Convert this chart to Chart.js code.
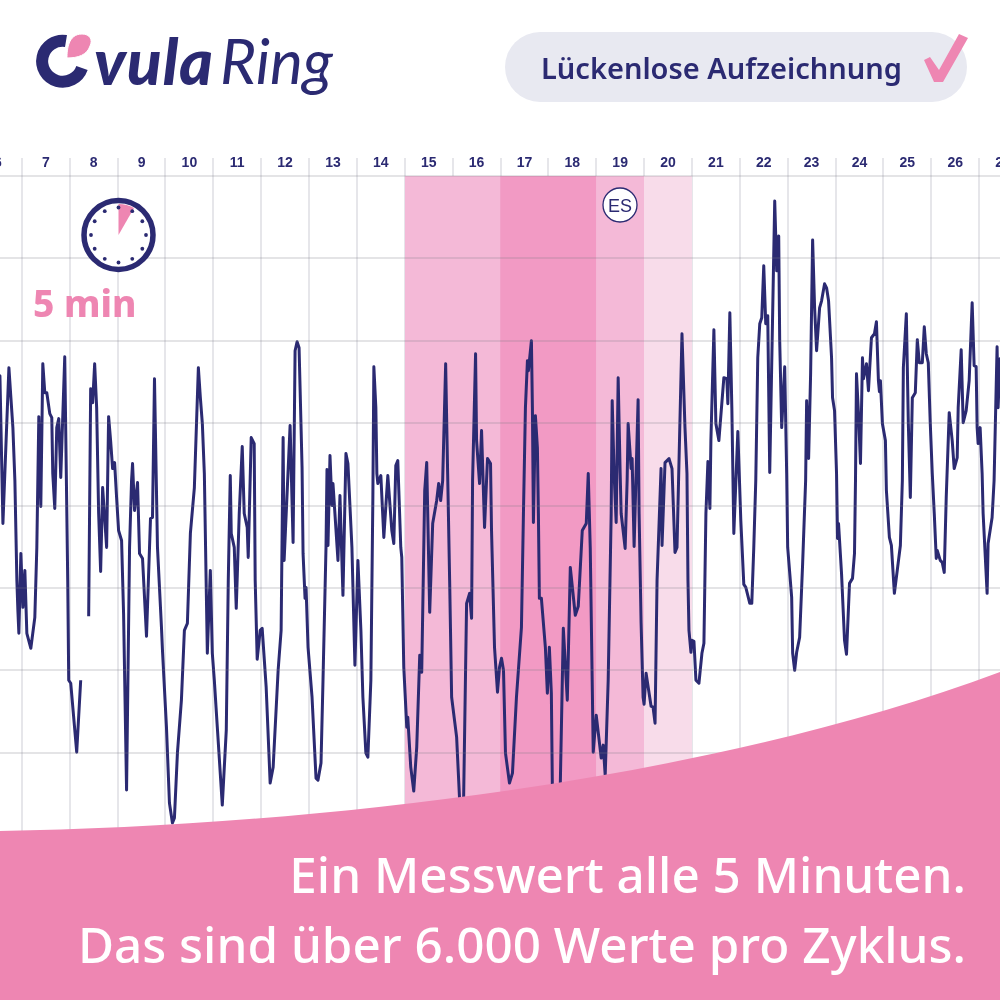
<!DOCTYPE html>
<html lang="de">
<head>
<meta charset="utf-8">
<title>OvulaRing</title>
<script src="https://cdn.jsdelivr.net/npm/chart.js@4"></script>
<style>
    html, body { margin: 0; padding: 0; width: 1000px; height: 1000px; overflow: hidden; background: #fff; }
    #curve { position: absolute; left: -26px; top: 0; }
    .overlay { position: absolute; left: 0; top: 0; }
    .text { position: absolute; white-space: nowrap; line-height: 1; }
    #logoBold { left: 94px; top: 22px; font: italic 900 64px Lato, sans-serif; letter-spacing: 1px; color: #2b2a72; }
    #logoLight { left: 220px; top: 23px; font: italic 400 62px Lato, sans-serif; color: #2b2a72; }
    #pill { position: absolute; left: 505px; top: 32px; width: 462px; height: 70px; border-radius: 35px; background: #e8e9f1; }
    #pillText { left: 541px; top: 48px; font: 600 29px "Noto Sans", sans-serif; color: #2b2a72; }
    #minutes { left: 33px; top: 277px; font: 800 37px "Noto Sans", sans-serif; color: #ee86b2; }
    #badge { left: 602px; top: 196px; width: 36px; text-align: center; font: 400 18px "Liberation Sans", sans-serif; color: #2b2a72; }
    .claim { right: 34px; font: 500 49.400px "Noto Sans", sans-serif; color: #fff; }
    #claim1 { top: 840px; }
    #claim2 { top: 910px; }
</style>
</head>
<body>
<canvas id="curve" width="1053" height="1000"></canvas>

<!-- Wave, clock and badge sit on top of the chart -->
<svg class="overlay" width="1000" height="1000">
    <path d="M0 831 C300 826 700 784 1000 672 L1000 1000 L0 1000 Z" fill="#ee86b2"/>
    <circle cx="620" cy="205" r="17" fill="#fff" stroke="#2b2a72" stroke-width="1.3"/>
    <circle cx="118.500" cy="235" r="34.500" fill="#fff" stroke="#2b2a72" stroke-width="5.500"/>
    <path d="M118.500 235 L118.500 204 A31 31 0 0 1 134 208 Z" fill="#ee86b2"/>
    <g id="clockDots" fill="#2b2a72"></g>
    <path d="M66 41 A20.500 20.500 0 1 0 82 68" fill="none" stroke="#2b2a72" stroke-width="12"/>
    <path d="M67 58 C67 50 68 34 82 34 C90 34 93 40 90 46 C87 55 78 58 67 58 Z" fill="#ee86b2" stroke="#fff" stroke-width="1"/>
</svg>

<div id="logoBold" class="text">vula</div>
<div id="logoLight" class="text">Ring</div>
<div id="pill"></div>
<div id="pillText" class="text">Lückenlose Aufzeichnung</div>
<svg class="overlay" width="1000" height="110">
    <polygon points="924,60 930,57 939,70 959,34 968,38 943,82 934,82" fill="#ee86b2"/>
</svg>
<div id="minutes" class="text">5 min</div>
<div id="badge" class="text">ES</div>
<div id="claim1" class="text claim">Ein Messwert alle 5 Minuten.</div>
<div id="claim2" class="text claim">Das sind über 6.000 Werte pro Zyklus.</div>

<script>
// Day labels of the cycle strip, each day is 24 hours wide
const dayLabels = ['6', '7', '8', '9', '10', '11', '12', '13', '14', '15', '16', '17', '18', '19', '20', '21', '22', '23', '24', '25', '26', '27'];

// Fertile window bands, in hours since the start of day 7
// The later bands start a little early so no seam shows between neighbours
const bandStarts = [192, 239.5, 287.5, 311.5];
const bandEnds = [240, 288, 312, 336];
const bandColors = ['#f4b9d7', '#f29ac4', '#f4b9d7', '#f8dcea'];

// Curve: hours since the start of day 7, and signal height
const hours = [
    -12, -11, -9.5, -6.5, -5.5, -4.5, -3.5, -2.5, -2, -1.5, -0.5, 0.5, 1.5, 2.5, 4.5, 6.5, 7.5, 8.5, 9.5, 10.5,
    11.5, 12.5, 14, 15, 15.5, 16.5, 17.5, 18.5, 19.5, 21.5, 23, 23.5, 24.5, 27.5, 29.5, 32, 33.5, 34.5, 35.5, 36.5,
    37.5, 38.5, 39.5, 40.5, 42.5, 43.5, 44.5, 45.5, 46.5, 47.5, 48.5, 50, 51, 52.5, 54, 55, 55.5, 56.5, 58, 59,
    60.5, 62.5, 64.5, 65.5, 66.5, 68, 70, 70.5, 72.5, 74, 75.5, 76.5, 78, 80, 81.5, 83, 84.5, 86.5, 88.5, 89.5,
    90.5, 91.5, 93, 94.5, 95.5, 96.5, 98, 100.5, 102.5, 103.5, 104.5, 105, 106.5, 107.5, 109, 110.5, 111.5, 113, 113.5, 115,
    116.5, 117, 118, 119.5, 120.5, 122.5, 124.5, 126, 128.5, 130, 131, 131.5, 134.5, 136, 137, 138, 139, 140.5, 141, 142,
    142.5, 143.5, 145.5, 147.5, 148.5, 150, 151, 152.5, 153, 153.5, 154.5, 155.5, 156, 158.5, 159.5, 161, 162.5, 163.5, 165.5, 167,
    168.5, 170, 171, 172.5, 173.5, 175, 176, 176.5, 177.5, 178, 178.5, 180, 181.5, 183.5, 185.5, 186.5, 187.5, 188.5, 190, 190.5,
    191.5, 193, 193.5, 195, 196.5, 198, 199.5, 200.5, 202, 203, 204.5, 206, 208, 209, 210, 211, 212.5, 213.5, 214.5, 215.5,
    218, 219.5, 220.5, 221.5, 223, 224.5, 225.5, 226, 227.5, 228, 229.5, 230.5, 232, 233, 233.5, 235, 235.5, 237, 238.5, 239.5,
    240.5, 241.5, 242.5, 244.5, 246, 248, 250.5, 251.5, 252.5, 253.5, 254, 255.5, 256, 256.5, 257.5, 258.5, 259, 259.5, 260.5, 262.5,
    263.5, 264.5, 265.5, 266, 268, 270, 271.5, 273.5, 275, 277.5, 279, 281, 283, 284, 285, 286.5, 288, 290.5, 291.5, 292.5,
    294, 295.5, 296, 297, 298, 299, 300, 300.5, 302.5, 303.5, 304, 305.5, 306, 307, 309, 309.5, 310.5, 311.5, 312, 313,
    315.5, 316.5, 317.5, 318.5, 320.5, 321, 322.5, 324.5, 326, 327.5, 328.5, 331, 332.5, 333.5, 334, 334.5, 335.5, 336, 337, 338,
    339.5, 341, 342, 343, 344, 345, 345.5, 347, 348, 349.5, 352, 353.5, 354, 355, 356, 357, 359, 360.5, 362, 363,
    365, 366, 367, 368, 369, 370, 371, 372, 373, 374, 375, 377.5, 378.5, 379.5, 380, 381, 382.5, 383.5, 384, 386,
    386.5, 387.5, 388.5, 390, 391.5, 393, 393.5, 394.5, 395.5, 396.5, 397.5, 398.5, 400, 401, 402.5, 403.5, 404.5, 406, 406.5, 407.5,
    408.5, 409, 409.5, 411, 412.5, 413.5, 415, 416.5, 417.5, 418, 418.5, 419.5, 420.5, 421.5, 422, 423.5, 424.5, 426, 427.5, 428.5,
    429.5, 430, 430.5, 431.5, 433, 433.5, 435, 436, 437.5, 440.5, 441.5, 442, 443.5, 444.5, 445.5, 446.5, 448, 449, 450, 451.5,
    452.5, 453.5, 454.5, 455.5, 456.5, 457.5, 458.5, 459, 460.5, 461.5, 462.5, 463.5, 465, 466.5, 467.5, 469, 469.5, 471, 472, 473.5,
    475, 476.5, 477.5, 478.5, 479, 479.5, 480.5, 481.5, 482, 484, 484.5, 486.5, 487.5, 489, 489.5, 490.5, 492
];
const signal = [
    385, 460, 312, 468, 438, 408, 355, 255, 225, 202, 282, 228, 265, 202, 187, 218, 288, 419, 329, 472,
    443, 443, 422, 418, 362, 327, 408, 417, 358, 479, 255, 155, 152, 83, 155, null, 219, 447, 433, 472,
    428, 322, 264, 348, 288, 419, 395, 367, 373, 338, 305, 295, 222, 45, 288, 355, 372, 325, 353, 282,
    277, 199, 317, 318, 457, 288, 208, 185, 108, 32, 12, 17, 82, 135, 205, 212, 302, 348, 468, 438,
    412, 362, 182, 265, 182, 155, 108, 30, 105, 255, 360, 302, 288, 227, 322, 389, 322, 308, 278, 398,
    392, 255, 176, 205, 207, 148, 52, 68, 165, 205, 398, 275, 410, 293, 485, 494, 488, 368, 282, 237,
    248, 188, 138, 57, 55, 72, 155, 288, 366, 290, 380, 330, 352, 275, 340, 240, 382, 372, 288, 170,
    275, 205, 138, 82, 78, 155, 338, 469, 428, 362, 352, 360, 298, 360, 305, 292, 370, 375, 288, 278,
    168, 108, 118, 68, 44, 88, 180, 163, 345, 373, 223, 312, 335, 352, 335, 355, 472, 362, 255, 138,
    98, 35, 10, 35, 232, 242, 217, 355, 482, 395, 352, 405, 308, 355, 377, 372, 305, 188, 143, 168,
    177, 165, 82, 52, 62, 138, 208, 322, 428, 475, 465, 495, 428, 313, 420, 388, 322, 237, 237, 188,
    142, 188, 142, 48, 5, 52, 207, 135, 268, 220, 229, 305, 312, 362, 288, 83, 120, 77, 90, 60,
    155, 322, 435, 360, 313, 458, 362, 322, 287, 355, 412, 367, 377, 289, 436, 322, 212, 138, 131, 162,
    129, 128, 112, 255, 367, 290, 373, 377, 367, 283, 288, 502, 408, 362, 255, 205, 183, 195, 194, 155,
    152, 182, 192, 322, 374, 327, 395, 506, 412, 395, 458, 457, 432, 523, 428, 302, 404, 315, 251, 248,
    232, 232, 288, 355, 478, 512, 518, 570, 512, 520, 363, 635, 565, 600, 495, 408, 469, 362, 288, 238,
    182, 165, 183, 198, 272, 355, 435, 377, 462, 596, 528, 485, 528, 535, 552, 548, 535, 478, 438, 425,
    362, 297, 312, 262, 195, 181, 252, 257, 282, 355, 462, 422, 372, 478, 457, 472, 445, 498, 502, 514,
    455, 444, 455, 412, 395, 345, 298, 290, 242, 290, 355, 468, 522, 412, 338, 438, 443, 496, 473, 473,
    509, 482, 473, 412, 362, 322, 277, 285, 275, 273, 263, 338, 423, 395, 367, 378, 428, 486, 413, 425,
    455, 533, 470, 469, 408, 392, 408, 362, 322, 242, 292, 318, 355, 489, 428, 477, 435
];

const navy = '#2b2a72';

// Twelve hour markers of the clock
function drawClockDots() {
    const group = document.getElementById('clockDots');
    for (let i = 0; i < 12; i++) {
        const angle = i * Math.PI / 6;
        const dot = document.createElementNS('http://www.w3.org/2000/svg', 'circle');
        dot.setAttribute('cx', 118.5 + 27.5 * Math.sin(angle));
        dot.setAttribute('cy', 235 - 27.5 * Math.cos(angle));
        dot.setAttribute('r', 1.9);
        group.appendChild(dot);
    }
}

// Build one filled dataset per band
function buildBandDatasets() {
    return bandStarts.map((start, i) => ({
        data: [{ x: start, y: 660 }, { x: bandEnds[i], y: 660 }],
        backgroundColor: bandColors[i],
        borderWidth: 0,
        pointRadius: 0,
        fill: 'start',
        order: 1
    }));
}

function initChart() {
    const ctx = document.getElementById('curve').getContext('2d');

    new Chart(ctx, {
        type: 'line',
        data: {
            datasets: [{
                data: hours.map((h, i) => ({ x: h, y: signal[i] })),
                borderColor: navy,
                borderWidth: 3,
                borderJoinStyle: 'round',
                pointRadius: 0,
                tension: 0,
                fill: false,
                order: 0
            }, ...buildBandDatasets()]
        },
        options: {
            responsive: false,
            animation: false,
            layout: { padding: { left: 0, right: 0, top: 0, bottom: 165 } },
            plugins: { legend: { display: false }, tooltip: { enabled: false } },
            scales: {
                x: {
                    type: 'linear',
                    position: 'top',
                    min: -24,
                    max: 504,
                    afterFit: scale => { scale.height = 176; },
                    border: { display: false },
                    grid: {
                        z: -1,
                        lineWidth: 2,
                        tickLength: 18,
                        color: c => (c.tick.value % 24 === 0 ? '#e6e6ea' : 'transparent')
                    },
                    ticks: {
                        stepSize: 12,
                        autoSkip: false,
                        maxRotation: 0,
                        padding: -14,
                        color: navy,
                        font: { family: 'Liberation Sans', size: 14, weight: 'bold' },
                        callback: value => (value % 24 === 0 ? '' : dayLabels[(value + 12) / 24])
                    }
                },
                y: {
                    min: 0,
                    max: 660,
                    afterFit: scale => { scale.width = 0; },
                    border: { display: false },
                    grid: { z: 1, lineWidth: 2, drawTicks: false, color: 'rgba(120, 120, 130, 0.2)' },
                    ticks: { display: false, stepSize: 82.5 }
                }
            }
        }
    });
}

drawClockDots();
initChart();
</script>
</body>
</html>
